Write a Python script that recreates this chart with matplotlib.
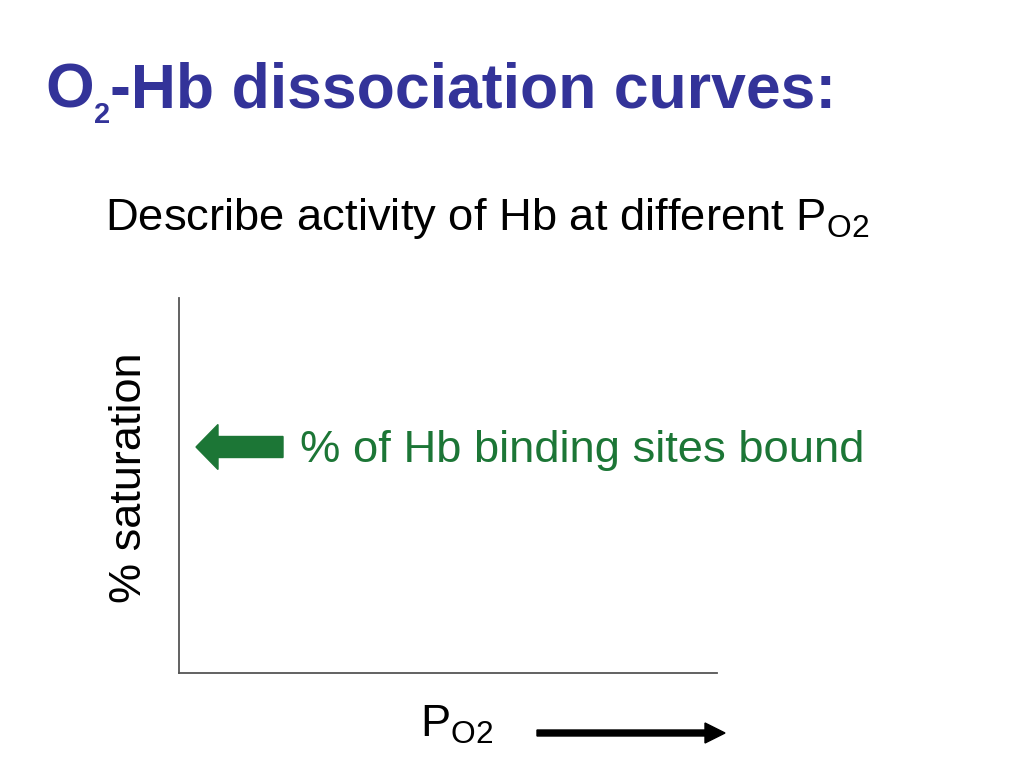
import matplotlib

matplotlib.use("Agg")
import matplotlib.pyplot as plt
from matplotlib.patches import FancyArrow

TITLE_PARTS = ["O", "2", "-Hb dissociation curves:"]
SUBTITLE = r"Describe activity of Hb at different P$_\mathregular{O2}$"
Y_LABEL = "% saturation"
X_LABEL = r"P$_\mathregular{O2}$"
NOTE = "% of Hb binding sites bound"

TITLE_COLOR = "#333399"
GREEN = "#1c7636"
W, H = 1024, 768

plt.rcParams["font.family"] = ["Liberation Sans", "DejaVu Sans"]
plt.rcParams["mathtext.fontset"] = "custom"
plt.rcParams["mathtext.rm"] = "Liberation Sans"

fig = plt.figure(figsize=(W / 100, H / 100), dpi=100)
ax = fig.add_axes([179 / W, 1 - 673 / H, 538 / W, 375 / H])
ax.set_xticks([])
ax.set_yticks([])
for side in ("top", "right"):
    ax.spines[side].set_visible(False)
for side in ("left", "bottom"):
    ax.spines[side].set_color("#555555")
    ax.spines[side].set_linewidth(1.3)

# title built from pieces so the subscript sits low like the slide
renderer = fig.canvas.get_renderer()
x = 45
for part, size, base in zip(TITLE_PARTS, [45, 21, 45], [108, 123, 108]):
    t = fig.text(x / W, 1 - base / H, part, fontsize=size, fontweight="bold",
                 color=TITLE_COLOR, ha="left", va="baseline")
    x += t.get_window_extent(renderer).width

fig.text(105 / W, 1 - 230 / H, SUBTITLE, fontsize=32.7, color="black",
         ha="left", va="baseline")
fig.text(300 / W, 1 - 462 / H, NOTE, fontsize=32.7, color=GREEN,
         ha="left", va="baseline")
fig.text(150 / W, 1 - 478 / H, Y_LABEL, fontsize=32.5, rotation=90,
         ha="right", va="center")
fig.text(420 / W, 1 - 737 / H, X_LABEL, fontsize=32.5,
         ha="left", va="baseline")

# green arrow pointing at the y axis
fig.patches.append(FancyArrow(
    283 / W, 1 - 447 / H, -87 / W, 0, width=21 / H,
    head_width=45 / H, head_length=22 / W, length_includes_head=True,
    color=GREEN, transform=fig.transFigure, figure=fig))

# black arrow for increasing PO2
fig.patches.append(FancyArrow(
    537 / W, 1 - 733 / H, 188 / W, 0, width=6 / H,
    head_width=20 / H, head_length=20 / W, length_includes_head=True,
    color="black", transform=fig.transFigure, figure=fig))

fig.savefig("out.png", dpi=100)
